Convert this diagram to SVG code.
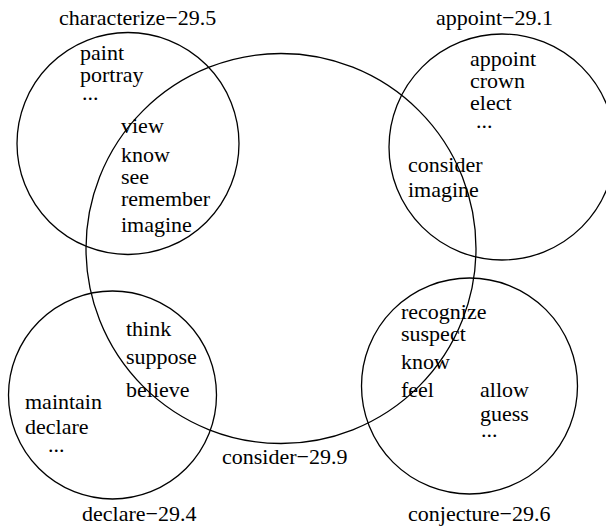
<svg xmlns="http://www.w3.org/2000/svg" width="606" height="528" viewBox="0 0 606 528">
<style>
.c{fill:none;stroke:#000;stroke-width:1.3}
text{font-family:"Liberation Serif","Times New Roman",serif;font-size:22px;fill:#000}
</style>
<rect width="606" height="528" fill="#fff"/>
<g id="consider">
<circle class="c" cx="281" cy="248.5" r="195"/>
<text x="222" y="464">consider−29.9</text>
</g>
<g id="characterize">
<circle class="c" cx="128" cy="143.5" r="111"/>
<text x="59" y="25">characterize−29.5</text>
<text x="80" y="60">paint</text>
<text x="80" y="82">portray</text>
<text x="82" y="100">...</text>
</g>
<g id="appoint">
<circle class="c" cx="502" cy="147" r="113"/>
<text x="436" y="25">appoint−29.1</text>
<text x="470" y="66">appoint</text>
<text x="470" y="88">crown</text>
<text x="470" y="110">elect</text>
<text x="476" y="128">...</text>
</g>
<g id="declare">
<circle class="c" cx="112.5" cy="395" r="104"/>
<text x="82" y="521">declare−29.4</text>
<text x="25" y="409">maintain</text>
<text x="25" y="434">declare</text>
<text x="48" y="452">...</text>
</g>
<g id="conjecture">
<circle class="c" cx="469.5" cy="386" r="108"/>
<text x="408" y="521">conjecture−29.6</text>
<text x="480" y="397">allow</text>
<text x="480" y="421">guess</text>
<text x="481" y="437">...</text>
</g>
<g id="shared-characterize-consider">
<text x="121" y="133">view</text>
<text x="121" y="162">know</text>
<text x="121" y="184">see</text>
<text x="121" y="206">remember</text>
<text x="121" y="232">imagine</text>
</g>
<g id="shared-appoint-consider">
<text x="408" y="172">consider</text>
<text x="408" y="197">imagine</text>
</g>
<g id="shared-declare-consider">
<text x="126" y="336">think</text>
<text x="126" y="364">suppose</text>
<text x="126" y="397">believe</text>
</g>
<g id="shared-conjecture-consider">
<text x="401" y="319">recognize</text>
<text x="401" y="341">suspect</text>
<text x="401" y="369">know</text>
<text x="401" y="397">feel</text>
</g>
</svg>
